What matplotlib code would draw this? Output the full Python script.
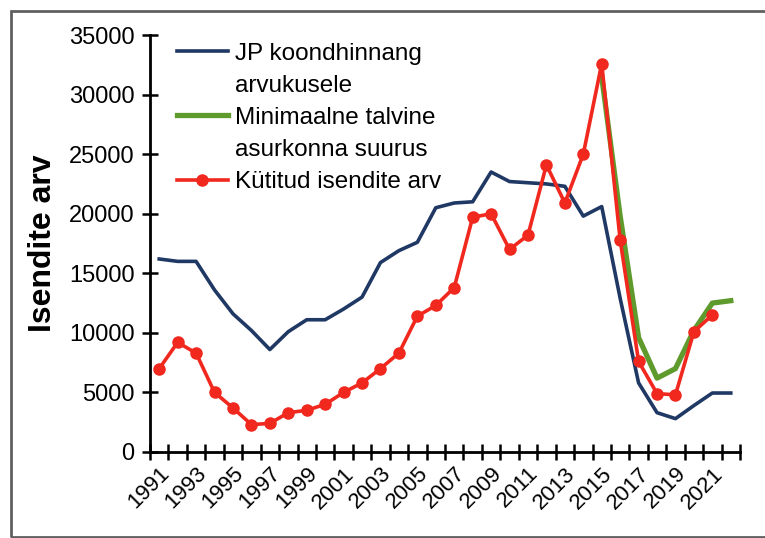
import numpy as np
import matplotlib.pyplot as plt
from matplotlib.lines import Line2D
from matplotlib.patches import Rectangle

plt.rcParams['font.family'] = ['Liberation Sans', 'DejaVu Sans']

# andmed
aastad = list(range(1991, 2023))

# JP koondhinnang arvukusele (1991-2022)
jp_hinnang = [16200, 16000, 16000, 13600, 11600, 10200, 8600, 10100, 11100, 11100,
              12000, 13000, 15900, 16900, 17600, 20500, 20900, 21000, 23500, 22700,
              22600, 22500, 22300, 19800, 20600, 12900, 5800, 3300, 2800, 3900,
              4950, 4950]

# Minimaalne talvine asurkonna suurus (2015-2022)
min_aastad = list(range(2015, 2023))
min_talvine = [31500, 19800, 9600, 6200, 7000, 10200, 12500, 12700]

# Kütitud isendite arv (1991-2021)
kyt_aastad = list(range(1991, 2022))
kytitud = [7000, 9200, 8300, 5000, 3700, 2300, 2400, 3300, 3500, 4000,
           5000, 5800, 7000, 8300, 11400, 12300, 13800, 19700, 20000, 17000,
           18200, 24100, 20900, 25000, 32600, 17800, 7600, 4900, 4800, 10100,
           11500]

# x positsioonid kategooriatena
x_all = np.arange(len(aastad))
x_min = [aastad.index(a) for a in min_aastad]
x_kyt = [aastad.index(a) for a in kyt_aastad]

sinine = '#1f3864'
roheline = '#5e9a2c'
punane = '#f0281e'

fig = plt.figure(figsize=(7.65, 5.38), dpi=100)
ax = fig.add_axes([150 / 765, 1 - 452 / 538, 590 / 765, 417 / 538])

ax.plot(x_all, jp_hinnang, color=sinine, lw=2.6, zorder=3)
ax.plot(x_min, min_talvine, color=roheline, lw=3.8, zorder=2)
ax.plot(x_kyt, kytitud, color=punane, lw=2.6, marker='o', ms=8, zorder=4)

ax.set_xlim(-0.5, len(aastad) - 0.5)
ax.set_ylim(0, 35000)
ax.set_yticks(range(0, 35001, 5000))
ax.tick_params(axis='y', direction='inout', length=12, width=1.8, labelsize=17, pad=5)

# x teljel tikid kategooriate vahel, sildid iga teise aasta kohta
ax.set_xticks(np.arange(-0.5, len(aastad), 1), minor=True)
ax.set_xticks(x_all[::2])
ax.set_xticklabels([str(a) for a in aastad[::2]], rotation=45, ha='right',
                   rotation_mode='anchor', fontsize=16)
ax.tick_params(axis='x', which='major', length=0, pad=8)
ax.tick_params(axis='x', which='minor', direction='inout', length=12, width=1.8)

for s in ['top', 'right']:
    ax.spines[s].set_visible(False)
for s in ['left', 'bottom']:
    ax.spines[s].set_linewidth(2)

ax.set_ylabel('Isendite arv', fontsize=23, fontweight='bold', labelpad=8)

# legend: mitmerealised sildid eraldi ridadena
tühi = Line2D([], [], color='none')
handles = [Line2D([], [], color=sinine, lw=2.6), tühi,
           Line2D([], [], color=roheline, lw=3.8), tühi,
           Line2D([], [], color=punane, lw=2.6, marker='o', ms=8)]
labels = ['JP koondhinnang', 'arvukusele', 'Minimaalne talvine',
          'asurkonna suurus', 'Kütitud isendite arv']
ax.legend(handles, labels, loc='upper left', bbox_to_anchor=(0.045, 0.982),
          frameon=False, fontsize=17.5, handlelength=2.1, handletextpad=0.3,
          labelspacing=0.42, borderpad=0, borderaxespad=0)

# raam ümber joonise
fig.patches.append(Rectangle((11 / 765, 1 / 538), 1.0, 526 / 538, transform=fig.transFigure,
                             fill=False, edgecolor='#606060', lw=2))

fig.savefig('out.png', dpi=100)
